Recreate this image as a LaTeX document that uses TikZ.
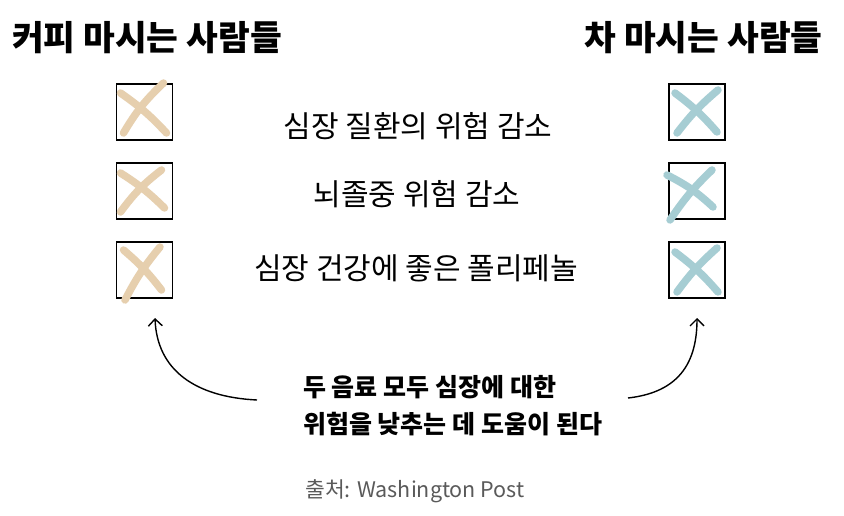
\documentclass[tikz,border=0pt]{standalone}
\usepackage{fontspec}
\newfontfamily\kr{Noto Sans CJK KR}
\usetikzlibrary{arrows.meta}
\definecolor{tan}{HTML}{E6CFAE}
\definecolor{teal}{HTML}{A6CDD3}
\definecolor{srcgray}{HTML}{5A5A5A}
\tikzset{
  title/.style={font=\kr\bfseries\fontsize{34.5}{40}\selectfont, anchor=center, inner sep=0pt},
  item/.style={font=\kr\fontsize{30}{34}\selectfont, anchor=center, inner sep=0pt},
  note/.style={font=\kr\bfseries\fontsize{25}{30}\selectfont, anchor=west, inner sep=0pt},
  src/.style={font=\kr\fontsize{21.5}{26}\selectfont, text=srcgray, anchor=center, inner sep=0pt},
  cbox/.style={draw=black, line width=1.8pt, minimum width=56pt, minimum height=56pt, inner sep=0pt},
  xmark/.style={line width=7.5pt, line cap=round},
  pointer/.style={line width=1.4pt, -{Straight Barb[length=7pt,width=14pt,line width=1.4pt]}}
}
\begin{document}
\begin{tikzpicture}[x=1pt,y=-1pt]
\useasboundingbox (0,0) rectangle (844,516);
\fill[white] (0,0) rectangle (844,516);
% titles
\node[title] (tl) at (147,38) {커피 마시는 사람들};
\node[title] (tr) at (703.5,38) {차 마시는 사람들};
% boxes
\node[cbox] (l1) at (144.5,112) {};
\node[cbox] (l2) at (144.5,191) {};
\node[cbox] (l3) at (144.5,270) {};
\node[cbox] (r1) at (697,112) {};
\node[cbox] (r2) at (697,191) {};
\node[cbox] (r3) at (697,270) {};
% X marks (coffee)
\draw[xmark,tan] ([shift={(-24,-19)}]l1.center) to[bend left=6] ([shift={(22,21)}]l1.center);
\draw[xmark,tan] ([shift={(19,-29)}]l1.center) to[bend right=8] ([shift={(-21,21)}]l1.center);
\draw[xmark,tan] ([shift={(-24,-18)}]l2.center) to[bend left=6] ([shift={(20,17)}]l2.center);
\draw[xmark,tan] ([shift={(17,-21)}]l2.center) to[bend right=8] ([shift={(-24,21)}]l2.center);
\draw[xmark,tan] ([shift={(-21,-20)}]l3.center) to[bend left=6] ([shift={(17,20)}]l3.center);
\draw[xmark,tan] ([shift={(15.5,-23)}]l3.center) to[bend right=6] ([shift={(-19.5,30)}]l3.center);
% X marks (tea)
\draw[xmark,teal] ([shift={(-22,-19)}]r1.center) to[bend left=6] ([shift={(20,20)}]r1.center);
\draw[xmark,teal] ([shift={(21,-22)}]r1.center) to[bend right=6] ([shift={(-20,21)}]r1.center);
\draw[xmark,teal] ([shift={(-30,-16)}]r2.center) to[bend left=8] ([shift={(16,16)}]r2.center);
\draw[xmark,teal] ([shift={(15,-21)}]r2.center) to[bend right=6] ([shift={(-27,29)}]r2.center);
\draw[xmark,teal] ([shift={(-22,-18)}]r3.center) to[bend left=6] ([shift={(21,22)}]r3.center);
\draw[xmark,teal] ([shift={(20,-22)}]r3.center) to[bend right=6] ([shift={(-20,22)}]r3.center);
% items
\node[item] (i1) at (418,126) {심장 질환의 위험 감소};
\node[item] (i2) at (417,194) {뇌졸중 위험 감소};
\node[item] (i3) at (416,268) {심장 건강에 좋은 폴리페놀};
% note
\node[note] (n1) at (303,387) {두 음료 모두 심장에 대한};
\node[note] (n2) at (303,424) {위험을 낮추는 데 도움이 된다};
% arrows
\coordinate (al) at (257,400);
\coordinate (ar) at (628,398);
\coordinate (tipl) at (155,318);
\coordinate (tipr) at (697,318);
\draw[pointer] (al) .. controls (195,397) and (157,370) .. (tipl);
\draw[pointer] (ar) .. controls (672,393) and (697,370) .. (tipr);
% source
\node[src] (s) at (415,491) {출처: Washington Post};
\end{tikzpicture}
\end{document}
